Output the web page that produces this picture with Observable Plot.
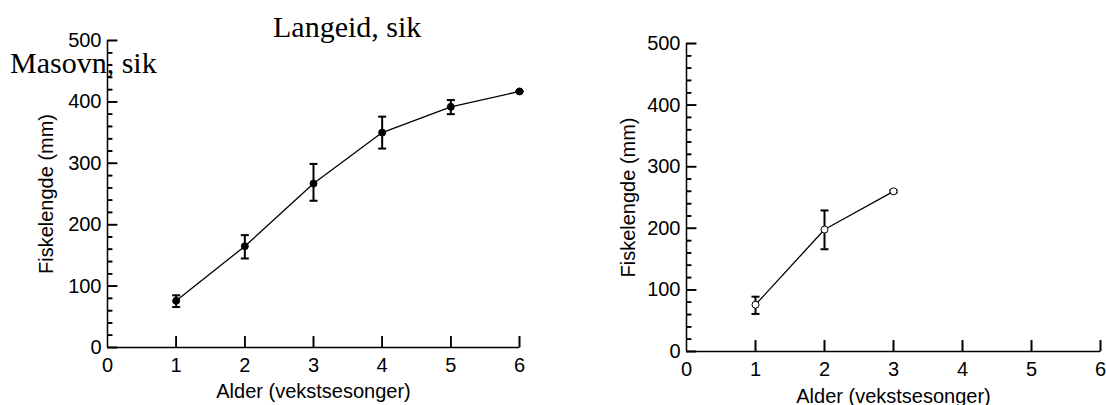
<!DOCTYPE html>
<html><head><meta charset="utf-8">
<script src="https://cdn.jsdelivr.net/npm/d3@7"></script>
<script src="https://cdn.jsdelivr.net/npm/@observablehq/plot@0.6"></script>
<style>
html,body{margin:0;padding:0;background:#fff;}
#wrap{position:relative;width:1106px;height:405px;overflow:hidden;}
.panel{position:absolute;top:0;}
.panel svg{overflow:visible;}
.title{position:absolute;font-family:"Liberation Serif","Times New Roman",serif;font-size:30px;line-height:24px;white-space:nowrap;color:#000;}
</style></head>
<body><div id="wrap"></div>
<script>
// Langeid, sik (left panel, filled points)
const langeidAges = [1, 2, 3, 4, 5, 6];
const langeidMean = [76, 165, 267, 350, 392, 417];
const langeidLow  = [66, 145, 239, 324, 380, 417];
const langeidHigh = [85, 183, 299, 376, 403, 417];

// Masovn, sik (right panel, hollow points)
const masovnAges = [1, 2, 3];
const masovnMean = [76, 198, 260];
const masovnLow  = [61, 166, 258];
const masovnHigh = [89, 229, 262];

const xTicks = [0, 1, 2, 3, 4, 5, 6];
const xTickMarks = [1, 2, 3, 4, 5, 6];
const yMajor = [0, 100, 200, 300, 400, 500];
const yMinor = [20, 40, 60, 80, 120, 140, 160, 180, 220, 240, 260, 280, 320, 340, 360, 380, 420, 440, 460, 480];

const xLabel = "Alder (vekstsesonger)";
const yLabel = "Fiskelengde (mm)";
const titles = ["Langeid, sik", "Masovn, sik"];

// custom symbols: size = r*r*PI, so sqrt(size/PI) = r
const capSymbol = {
  draw(ctx, size) { const w = Math.sqrt(size / Math.PI); ctx.moveTo(-w, 0); ctx.lineTo(w, 0); }
};
const tickRight = {
  draw(ctx, size) { const l = Math.sqrt(size / Math.PI); ctx.moveTo(0, 0); ctx.lineTo(l, 0); }
};
const tickUp = {
  draw(ctx, size) { const l = Math.sqrt(size / Math.PI); ctx.moveTo(0, 0); ctx.lineTo(0, -l); }
};

function rowsOf(ages, mean, low, high) {
  return ages.map((a, i) => ({age: a, mean: mean[i], low: low[i], high: high[i]}));
}

function panel(rows, filled, m, xLabelOffset, yLabelOffset) {
  const W = 553, H = 405;
  const fw = W - m.left - m.right, fh = H - m.top - m.bottom;
  return Plot.plot({
    width: W, height: H,
    marginLeft: m.left, marginRight: m.right, marginTop: m.top, marginBottom: m.bottom,
    x: {domain: [0, 6]},
    y: {domain: [0, 500]},
    style: {fontFamily: '"Liberation Sans", Arial, sans-serif', fontSize: "20px", color: "black", background: "transparent", overflow: "visible"},
    marks: [
      Plot.ruleX([0], {stroke: "black", strokeWidth: 1.5}),
      Plot.ruleY([0], {stroke: "black", strokeWidth: 1.5}),
      // inward ticks
      Plot.tickX(xTickMarks, {x: d => d, insetTop: fh - 11, stroke: "black", strokeWidth: 1.6}),
      Plot.tickY(yMajor, {y: d => d, insetRight: fw - 10, stroke: "black", strokeWidth: 1.6}),
      Plot.tickY(yMinor, {y: d => d, insetRight: fw - 5, stroke: "black", strokeWidth: 1.6}),
      Plot.dot(xTickMarks, {x: d => d, frameAnchor: "bottom", symbol: tickUp, r: 11, fill: "none", stroke: "black", strokeWidth: 1.6}),
      Plot.dot(yMajor, {y: d => d, frameAnchor: "left", symbol: tickRight, r: 10, fill: "none", stroke: "black", strokeWidth: 1.6}),
      Plot.dot(yMinor, {y: d => d, frameAnchor: "left", symbol: tickRight, r: 5, fill: "none", stroke: "black", strokeWidth: 1.6}),
      // tick labels and axis titles
      Plot.axisX({ticks: xTicks, tickSize: 0, tickPadding: 10, tickFormat: d => String(d),
        label: xLabel, labelAnchor: "center", labelArrow: "none", labelOffset: xLabelOffset}),
      Plot.axisY({ticks: yMajor, tickSize: 0, tickPadding: 6, tickFormat: d => String(d),
        label: yLabel, labelAnchor: "center", labelArrow: "none", labelOffset: yLabelOffset}),
      // data
      Plot.ruleX(rows, {x: "age", y1: "low", y2: "high", stroke: "black", strokeWidth: 2}),
      Plot.dot(rows, {x: "age", y: "low", symbol: capSymbol, r: 4, fill: "none", stroke: "black", strokeWidth: 2}),
      Plot.dot(rows, {x: "age", y: "high", symbol: capSymbol, r: 4, fill: "none", stroke: "black", strokeWidth: 2}),
      Plot.line(rows, {x: "age", y: "mean", stroke: "black", strokeWidth: 1.3}),
      Plot.dot(rows, {x: "age", y: "mean", r: 3.5, fill: filled ? "black" : "white", stroke: "black", strokeWidth: 1})
    ]
  });
}

const wrap = document.getElementById("wrap");

const left = document.createElement("div");
left.className = "panel"; left.style.left = "0px";
left.appendChild(panel(rowsOf(langeidAges, langeidMean, langeidLow, langeidHigh), true,
  {left: 107, right: 34, top: 40, bottom: 58}, 50, 69));
wrap.appendChild(left);

const right = document.createElement("div");
right.className = "panel"; right.style.left = "553px";
right.appendChild(panel(rowsOf(masovnAges, masovnMean, masovnLow, masovnHigh), false,
  {left: 133, right: 6, top: 43, bottom: 54}, 51, 66));
wrap.appendChild(right);

const t1 = document.createElement("div");
t1.className = "title"; t1.textContent = titles[0];
t1.style.left = "273px"; t1.style.top = "15px";
wrap.appendChild(t1);

const t2 = document.createElement("div");
t2.className = "title"; t2.textContent = titles[1];
t2.style.left = "10px"; t2.style.top = "51px";
wrap.appendChild(t2);
</script>
</body></html>
